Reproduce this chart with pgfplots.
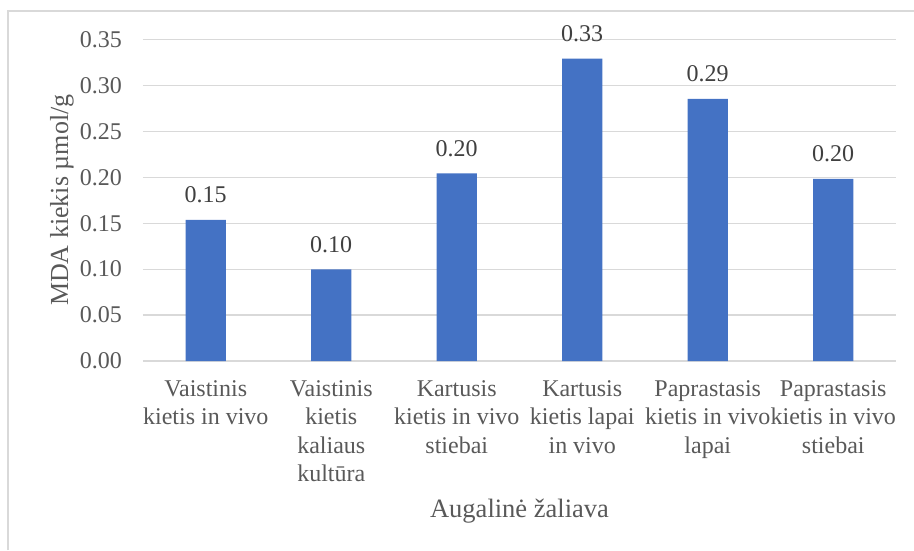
\documentclass[border=0pt]{standalone}
\usepackage{fontspec}
\setmainfont{Liberation Serif}
\usepackage{pgfplots}
\pgfplotsset{compat=1.18}
\definecolor{barBlue}{HTML}{4472C4}
\definecolor{gridGray}{HTML}{D9D9D9}
\definecolor{txtGray}{HTML}{595959}
\begin{document}
\begin{tikzpicture}
  \path[use as bounding box] (0,0) rectangle (914pt,550pt);
  \draw[gridGray, line width=1.2pt] (8pt,0) -- (8pt,539pt) -- (914pt,539pt);
  \begin{axis}[
      at={(143pt,189pt)}, anchor=south west,
      width=753pt, height=321.5pt, scale only axis,
      xmin=-0.5, xmax=5.5, ymin=0, ymax=0.35,
      ytick={0,0.05,...,0.35},
      xtick={0,...,5},
      xticklabels={{Vaistinis\\kietis in vivo},{Vaistinis\\kietis\\kaliaus\\kultūra},
        {Kartusis\\kietis in vivo\\stiebai},{Kartusis\\kietis lapai\\in vivo},
        {Paprastasis\\kietis in vivo\\lapai},{Paprastasis\\kietis in vivo\\stiebai}},
      font=\fontsize{24}{28.5}\selectfont,
      every tick label/.append style={text=txtGray},
      yticklabel style={/pgf/number format/.cd, fixed, fixed zerofill, precision=2,
        assume math mode=true, /tikz/.cd, inner sep=0pt, xshift=-21pt},
      xticklabel style={align=center, anchor=north, inner sep=0pt, yshift=-19pt},
      major tick length=0pt,
      axis line style={draw=none},
      ymajorgrids, grid style={gridGray, line width=1.2pt},
      xlabel={Augalinė žaliava},
      xlabel style={at={(axis description cs:0.5,-0.466)}, anchor=center, text=txtGray,
        font=\fontsize{26.5}{30}\selectfont},
      ylabel={MDA kiekis µmol/g},
      ylabel style={at={(axis description cs:-0.1076,0.5)}, anchor=center, text=txtGray,
        font=\fontsize{26}{30}\selectfont},
      ybar, bar width=0.32,
      nodes near coords={\pgfmathprintnumber[fixed,fixed zerofill,precision=2,assume math mode=true]{\pgfplotspointmeta}},
      every node near coord/.append style={anchor=south, inner sep=0pt, yshift=16.5pt, text=black!75},
    ]
    \addplot[fill=barBlue, draw=none] coordinates {
      (0,0.1536) (1,0.0997) (2,0.2043) (3,0.3293) (4,0.2855) (5,0.1982)};
  \end{axis}
\end{tikzpicture}
\end{document}
